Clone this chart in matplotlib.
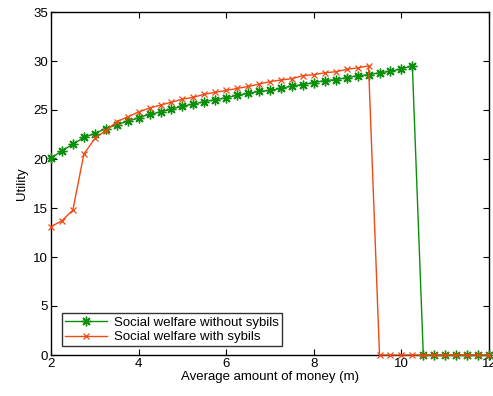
import numpy as np
import matplotlib
matplotlib.use("Agg")
import matplotlib.pyplot as plt

plt.rcParams['font.family'] = ['Liberation Sans', 'DejaVu Sans']

# Average amount of money per agent
money = [2.0, 2.25, 2.5, 2.75, 3.0, 3.25, 3.5, 3.75, 4.0, 4.25, 4.5, 4.75,
         5.0, 5.25, 5.5, 5.75, 6.0, 6.25, 6.5, 6.75, 7.0, 7.25, 7.5, 7.75,
         8.0, 8.25, 8.5, 8.75, 9.0, 9.25, 9.5, 9.75, 10.0, 10.25, 10.5,
         10.75, 11.0, 11.25, 11.5, 11.75, 12.0]

welfare_no_sybils = [20.07, 20.85, 21.5, 22.2, 22.6, 23.1, 23.5, 23.85, 24.2,
                     24.56, 24.8, 25.1, 25.4, 25.6, 25.85, 26.05, 26.25, 26.5,
                     26.7, 26.9, 27.0, 27.2, 27.45, 27.6, 27.8, 28.0, 28.1,
                     28.3, 28.5, 28.6, 28.8, 28.95, 29.2, 29.5, 0.0, 0.0, 0.0,
                     0.0, 0.0, 0.0, 0.0]

welfare_sybils = [13.1, 13.7, 14.8, 20.5, 22.1, 22.9, 23.8, 24.3, 24.8, 25.2,
                  25.5, 25.8, 26.1, 26.3, 26.6, 26.8, 27.0, 27.2, 27.4, 27.65,
                  27.9, 28.06, 28.2, 28.5, 28.6, 28.8, 28.9, 29.15, 29.3, 29.5,
                  0.0, 0.0, 0.0, 0.0, 0.0, 0.0, 0.0, 0.0, 0.0, 0.0, 0.0]

x_ticks = [2, 4, 6, 8, 10, 12]
y_ticks = [0, 5, 10, 15, 20, 25, 30, 35]

fig = plt.figure(figsize=(4.93, 3.96), dpi=100)
ax = fig.add_axes([51 / 493, 41 / 396, 438 / 493, 343 / 396])

green = '#0a8f0a'
orange = '#ee4a14'

# asterisk marker: eight spokes, like a plus laid over a cross
asterisk = (8, 2, 0)

ax.plot(money, welfare_no_sybils, color=green, marker=asterisk, markersize=7,
        linewidth=1.0, markeredgewidth=1.0, label='Social welfare without sybils',
        clip_on=False, zorder=3)
ax.plot(money, welfare_sybils, color=orange, marker='x', markersize=5,
        linewidth=1.0, markeredgewidth=0.9, label='Social welfare with sybils',
        clip_on=False, zorder=4)

ax.set_xlim(2, 12)
ax.set_ylim(0, 35)
ax.set_xticks(x_ticks)
ax.set_yticks(y_ticks)
ax.tick_params(direction='in', top=True, right=True, length=4, width=0.8,
               labelsize=9.5, pad=2)
for s in ax.spines.values():
    s.set_linewidth(1.0)

ax.set_xlabel('Average amount of money (m)', fontsize=9.5, labelpad=1)
ax.set_ylabel('Utility', fontsize=9.5, labelpad=4)

leg = ax.legend(loc='lower left', bbox_to_anchor=(0.025, 0.025), fontsize=9.5,
                frameon=True, fancybox=False, borderpad=0.25, labelspacing=0.15,
                handlelength=3.2, handletextpad=0.5, borderaxespad=0)
leg.get_frame().set_edgecolor('black')
leg.get_frame().set_linewidth(1.0)

fig.savefig('out.png', dpi=100)
